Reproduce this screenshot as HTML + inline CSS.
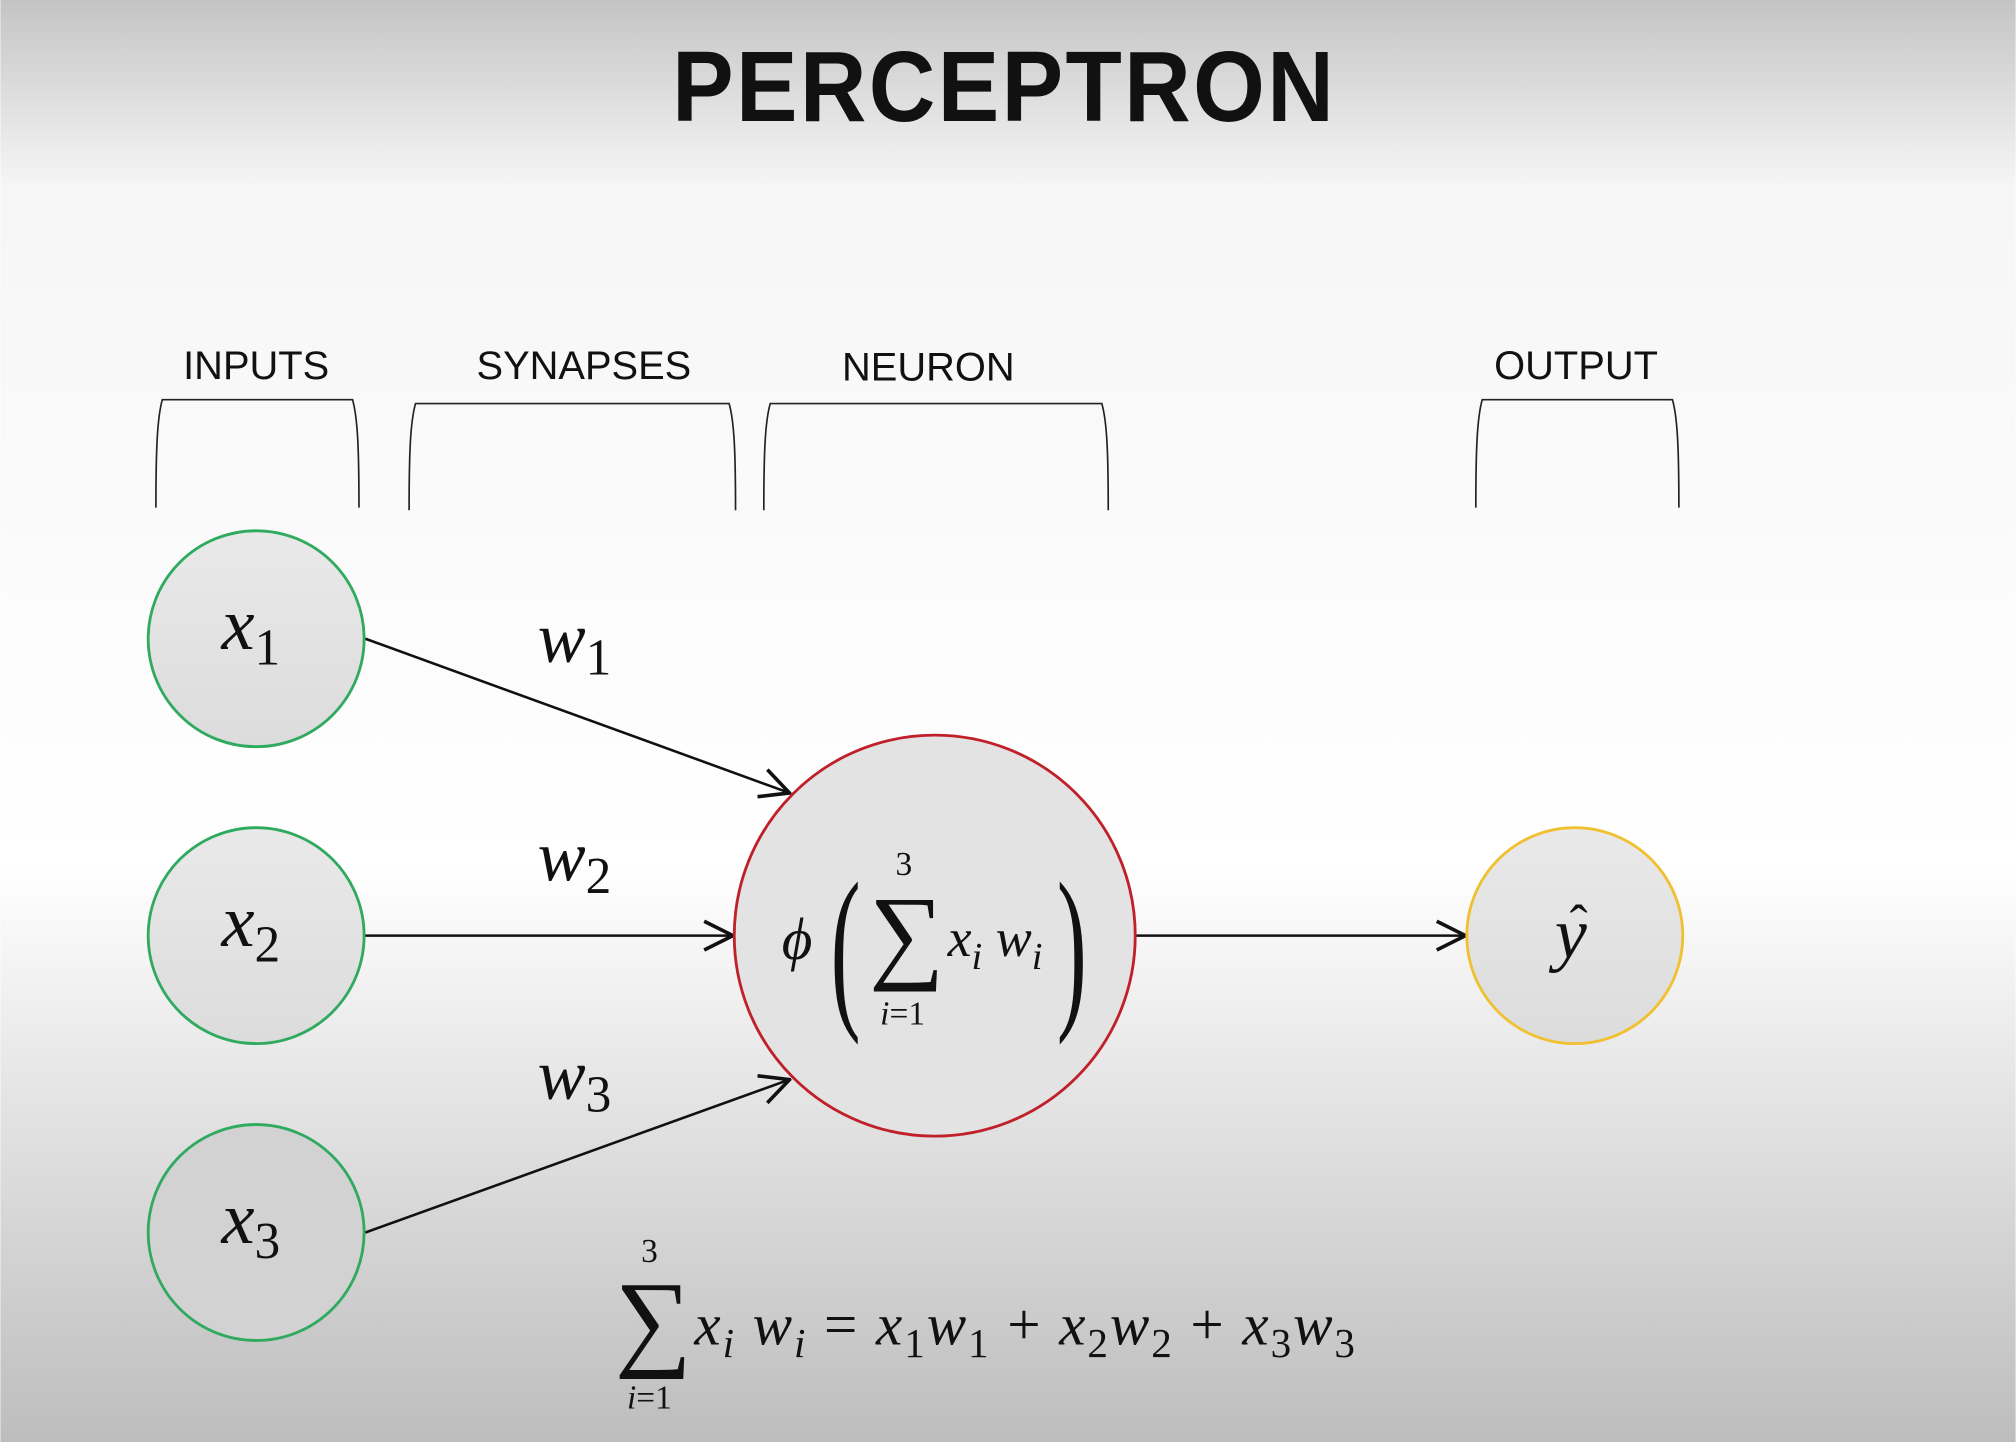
<!DOCTYPE html>
<html><head><meta charset="utf-8"><style>
html,body{margin:0;padding:0;width:2016px;height:1442px;overflow:hidden;background:#fff}
svg{display:block}
.lbl{font-family:"Liberation Sans",sans-serif;font-size:31px;fill:#111;text-anchor:middle}
.m{font-family:"Liberation Serif","DejaVu Serif",serif;font-style:italic;fill:#111}
.n{font-family:"Liberation Serif","DejaVu Serif",serif;fill:#111}
</style></head><body>
<svg width="2016" height="1442" viewBox="0 0 1568 1122" xmlns="http://www.w3.org/2000/svg">
<defs>
<linearGradient id="bg" x1="0" y1="0" x2="0" y2="1">
<stop offset="0" stop-color="#c4c4c4"/>
<stop offset="0.13" stop-color="#f6f6f6"/>
<stop offset="0.6" stop-color="#ffffff"/>
<stop offset="0.75" stop-color="#e6e6e6"/>
<stop offset="1" stop-color="#bdbdbd"/>
</linearGradient>
<linearGradient id="cf" x1="0" y1="0" x2="0" y2="1">
<stop offset="0" stop-color="#e9e9e9"/><stop offset="1" stop-color="#dcdcdc"/>
</linearGradient>
<marker id="ah" viewBox="0 0 20 20" refX="19" refY="10" markerWidth="28" markerHeight="28" markerUnits="userSpaceOnUse" orient="auto">
<path d="M3,2 L19,10 L3,18" fill="none" stroke="#111" stroke-width="2"/>
</marker>
</defs>
<rect width="1568" height="1122" fill="url(#bg)"/>
<text x="781" y="94" text-anchor="middle" font-family="Liberation Sans,sans-serif" font-weight="bold" font-size="78" fill="#111" letter-spacing="2" transform="translate(781,0) scale(0.92,1) translate(-781,0)">PERCEPTRON</text>

<g>
<text class="lbl" x="199" y="295">INPUTS</text>
<text class="lbl" x="454" y="295">SYNAPSES</text>
<text class="lbl" x="722" y="296">NEURON</text>
<text class="lbl" x="1226" y="295">OUTPUT</text>
</g>
<g fill="none" stroke="#222" stroke-width="1.3">
<path d="M121,395 C121,350 122,325 126,311 L274,311 C278,325 279,350 279,395"/>
<path d="M318,397 C318,352 319,328 323,314 L567,314 C571,328 572,352 572,397"/>
<path d="M594,397 C594,352 595,328 599,314 L857,314 C861,328 862,352 862,397"/>
<path d="M1148,395 C1148,350 1149,325 1153,311 L1301,311 C1305,325 1306,350 1306,395"/>
</g>

<g stroke="#111" stroke-width="2" fill="none">
<line x1="284" y1="497" x2="614" y2="617" marker-end="url(#ah)"/>
<line x1="284" y1="728" x2="570" y2="728" marker-end="url(#ah)"/>
<line x1="284" y1="959" x2="614" y2="840" marker-end="url(#ah)"/>
<line x1="884" y1="728" x2="1140" y2="728" marker-end="url(#ah)"/>
</g>

<g>
<text class="m" x="418" y="515" font-size="56">w<tspan class="n" font-style="normal" font-size="40" dy="10">1</tspan></text>
<text class="m" x="418" y="685" font-size="56">w<tspan class="n" font-style="normal" font-size="40" dy="10">2</tspan></text>
<text class="m" x="418" y="855" font-size="56">w<tspan class="n" font-style="normal" font-size="40" dy="10">3</tspan></text>
</g>

<g>
<circle cx="199" cy="497" r="84" fill="url(#cf)" stroke="#2faa5e" stroke-width="2.2"/>
<circle cx="199" cy="728" r="84" fill="url(#cf)" stroke="#2faa5e" stroke-width="2.2"/>
<circle cx="199" cy="959" r="84" fill="#d2d2d2" stroke="#2faa5e" stroke-width="2.2"/>
<text class="m" x="172" y="505" font-size="58">x<tspan class="n" font-style="normal" font-size="40" dy="12">1</tspan></text>
<text class="m" x="172" y="736" font-size="58">x<tspan class="n" font-style="normal" font-size="40" dy="12">2</tspan></text>
<text class="m" x="172" y="967" font-size="58">x<tspan class="n" font-style="normal" font-size="40" dy="12">3</tspan></text>
</g>

<g>
<circle cx="727" cy="728" r="156" fill="#e3e3e3" stroke="#c0202a" stroke-width="2.2"/>
<text class="m" x="608" y="746" font-size="46">ϕ</text>
<text class="n" x="646" y="783" font-size="140" transform="translate(646,0) scale(0.5,1) translate(-646,0)">(</text>
<text class="n" x="676" y="754" font-size="82">∑</text>
<text class="n" x="703" y="681" font-size="26" text-anchor="middle">3</text>
<text class="m" x="702" y="797" font-size="26" text-anchor="middle">i<tspan class="n" font-style="normal">=1</tspan></text>
<text class="m" x="737" y="744" font-size="42">x<tspan font-size="30" dy="10">i</tspan><tspan dy="-10"> w</tspan><tspan font-size="30" dy="10">i</tspan></text>
<text class="n" x="822" y="783" font-size="140" transform="translate(822,0) scale(0.5,1) translate(-822,0)">)</text>
</g>

<g>
<circle cx="1225" cy="728" r="84" fill="url(#cf)" stroke="#f0c030" stroke-width="2.2"/>
<text class="m" x="1222" y="745" font-size="56" text-anchor="middle">y</text>
<text class="n" x="1228" y="733" font-size="42" text-anchor="middle">ˆ</text>
</g>

<g>
<text class="n" x="478" y="1055" font-size="84">∑</text>
<text class="n" x="505" y="982" font-size="26" text-anchor="middle">3</text>
<text class="m" x="505" y="1096" font-size="26" text-anchor="middle">i<tspan class="n" font-style="normal">=1</tspan></text>
<text class="m" x="540" y="1046" font-size="46" letter-spacing="1.5">x<tspan font-size="32" dy="10">i</tspan><tspan dy="-10"> w</tspan><tspan font-size="32" dy="10">i</tspan><tspan class="n" font-style="normal" dy="-10"> = </tspan>x<tspan class="n" font-style="normal" font-size="32" dy="10">1</tspan><tspan dy="-10">w</tspan><tspan class="n" font-style="normal" font-size="32" dy="10">1</tspan><tspan class="n" font-style="normal" dy="-10"> + </tspan>x<tspan class="n" font-style="normal" font-size="32" dy="10">2</tspan><tspan dy="-10">w</tspan><tspan class="n" font-style="normal" font-size="32" dy="10">2</tspan><tspan class="n" font-style="normal" dy="-10"> + </tspan>x<tspan class="n" font-style="normal" font-size="32" dy="10">3</tspan><tspan dy="-10">w</tspan><tspan class="n" font-style="normal" font-size="32" dy="10">3</tspan></text>
</g>
</svg>
</body></html>
